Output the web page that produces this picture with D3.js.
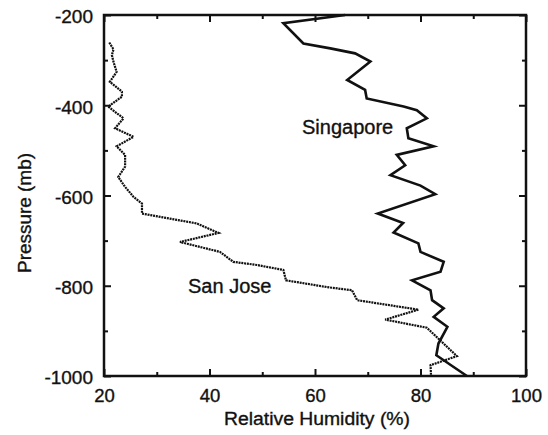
<!DOCTYPE html>
<html>
<head>
<meta charset="utf-8">
<script src="https://cdn.jsdelivr.net/npm/d3@7"></script>
<style>
  body { margin: 0; background: #fff; }
  svg text { font-family: "Liberation Sans", Arial, Helvetica, sans-serif; fill: #111; stroke: #111; stroke-width: 0.35px; }
</style>
</head>
<body>
<div class="chart"></div>
<script>
// relative humidity profiles, pressure shown as negative mb
var singaporeP  = [-200, -218, -263, -274, -285, -303, -344, -366, -385, -403, -411, -429, -451, -473, -491, -510, -533, -555, -578, -597, -640, -661, -682, -706, -725, -747, -769, -788, -810, -832, -850, -869, -891, -928, -954, -1000];
var singaporeRH = [65.7, 54.0, 57.8, 62.9, 67.6, 70.5, 66.1, 69.5, 69.8, 76.8, 79.3, 81.2, 77.4, 77.7, 82.5, 75.5, 77.1, 74.3, 80.0, 82.8, 71.9, 76.7, 74.9, 79.6, 80.0, 84.4, 83.8, 78.4, 81.9, 82.2, 84.4, 82.5, 85.1, 83.4, 83.0, 88.8];

var sanJoseP  = [-261, -276, -289, -304, -326, -348, -363, -370, -381, -403, -429, -451, -470, -491, -510, -536, -559, -581, -603, -618, -640, -662, -683, -703, -725, -747, -754, -765, -788, -803, -810, -832, -853, -875, -893, -956, -976, -1000];
var sanJoseRH = [21.0, 21.8, 21.5, 21.8, 22.4, 21.1, 22.7, 23.4, 23.4, 20.8, 23.7, 22.1, 25.6, 22.4, 24.0, 24.0, 22.7, 24.0, 25.6, 27.2, 27.2, 37.6, 41.7, 34.4, 42.0, 44.5, 49.0, 54.0, 54.5, 62.3, 67.0, 68.0, 79.6, 73.3, 81.2, 86.9, 81.9, 82.0];

var xMajor = [20, 40, 60, 80, 100];
var xMinor = [30, 50, 70, 90];
var yMajor = [-200, -400, -600, -800, -1000];
var yMinor = [-300, -500, -700, -900];

var width = 548, height = 435,
    margin = {top: 15, right: 22, bottom: 59, left: 104};

var svg = d3.select(".chart").append("svg")
    .attr("width", width)
    .attr("height", height);

var x = d3.scaleLinear()
    .domain([20, 100])
    .range([margin.left, width - margin.right]);

var y = d3.scaleLinear()
    .domain([-200, -1000])
    .range([margin.top, height - margin.bottom]);

var fmt = function(d) { return String(d); };

// bottom axis with labels
var gx = svg.append("g")
    .attr("transform", "translate(0," + y(-1000) + ")")
    .call(d3.axisBottom(x).tickValues(xMajor).tickSize(-7).tickPadding(13).tickFormat(fmt));
gx.selectAll("text").attr("font-size", "18.5px");

svg.append("g")
    .attr("transform", "translate(0," + y(-1000) + ")")
    .call(d3.axisBottom(x).tickValues(xMinor).tickSize(-4).tickFormat(""));

// top axis ticks
svg.append("g")
    .attr("transform", "translate(0," + y(-200) + ")")
    .call(d3.axisTop(x).tickValues(xMajor).tickSize(-7).tickFormat(""));
svg.append("g")
    .attr("transform", "translate(0," + y(-200) + ")")
    .call(d3.axisTop(x).tickValues(xMinor).tickSize(-4).tickFormat(""));

// left axis with labels
var gy = svg.append("g")
    .attr("transform", "translate(" + x(20) + ",0)")
    .call(d3.axisLeft(y).tickValues(yMajor).tickSize(-7).tickPadding(11).tickFormat(fmt));
gy.selectAll("text").attr("font-size", "19px").attr("dy", "0.42em");

svg.append("g")
    .attr("transform", "translate(" + x(20) + ",0)")
    .call(d3.axisLeft(y).tickValues(yMinor).tickSize(-4).tickFormat(""));

// right axis ticks
svg.append("g")
    .attr("transform", "translate(" + x(100) + ",0)")
    .call(d3.axisRight(y).tickValues(yMajor).tickSize(-7).tickFormat(""));
svg.append("g")
    .attr("transform", "translate(" + x(100) + ",0)")
    .call(d3.axisRight(y).tickValues(yMinor).tickSize(-4).tickFormat(""));

svg.selectAll(".domain").remove();
svg.selectAll(".tick line").attr("stroke", "#111").attr("stroke-width", 2);

// frame
svg.append("rect")
    .attr("x", x(20))
    .attr("y", y(-200))
    .attr("width", x(100) - x(20))
    .attr("height", y(-1000) - y(-200))
    .attr("fill", "none")
    .attr("stroke", "#111")
    .attr("stroke-width", 2.5);

var line = d3.line()
    .x(function(d) { return x(d[1]); })
    .y(function(d) { return y(d[0]); });

svg.append("path")
    .datum(d3.zip(sanJoseP, sanJoseRH))
    .attr("d", line)
    .attr("fill", "none")
    .attr("stroke", "#111")
    .attr("stroke-width", 2.2)
    .attr("stroke-dasharray", "2,0.8");

svg.append("path")
    .datum(d3.zip(singaporeP, singaporeRH))
    .attr("d", line)
    .attr("fill", "none")
    .attr("stroke", "#111")
    .attr("stroke-width", 2.6)
    .attr("stroke-linejoin", "miter");

// series labels
svg.append("text")
    .attr("x", 302)
    .attr("y", 134)
    .attr("font-size", "20px")
    .text("Singapore");

svg.append("text")
    .attr("x", 188)
    .attr("y", 293)
    .attr("font-size", "20px")
    .text("San Jose");

// axis titles
svg.append("text")
    .attr("x", 317)
    .attr("y", 425)
    .attr("text-anchor", "middle")
    .attr("font-size", "18px")
    .attr("textLength", 186)
    .attr("lengthAdjust", "spacingAndGlyphs")
    .text("Relative Humidity (%)");

svg.append("text")
    .attr("transform", "translate(31,213) rotate(-90)")
    .attr("text-anchor", "middle")
    .attr("font-size", "17.5px")
    .attr("textLength", 120)
    .attr("lengthAdjust", "spacingAndGlyphs")
    .text("Pressure (mb)");
</script>
</body>
</html>
